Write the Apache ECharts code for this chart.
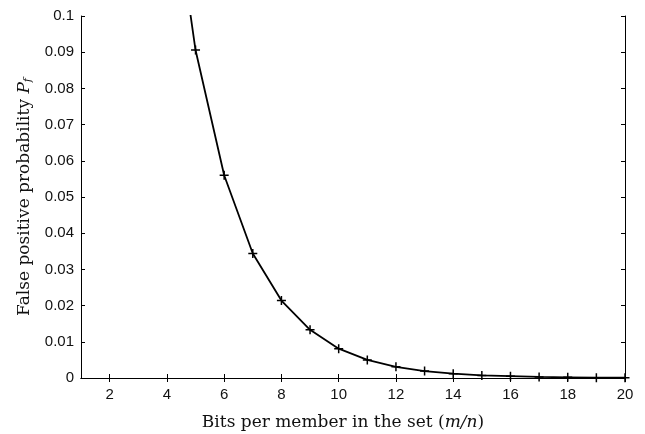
<!DOCTYPE html>
<html>
<head>
<meta charset="utf-8">
<script src="https://cdn.jsdelivr.net/npm/echarts@6/dist/echarts.min.js"></script>
<style>
  html, body { margin: 0; padding: 0; background: #fff; }
  #chart { width: 645px; height: 434px; }
</style>
</head>
<body>
<div id="chart"></div>
<script>
// bits per member (m/n) and false positive probability
const bits = [4, 5, 6, 7, 8, 9, 10, 11, 12, 13, 14, 15, 16, 17, 18, 19, 20]
const falsePositive = [0.146, 0.0906, 0.0560, 0.0344, 0.0214, 0.0133, 0.0081, 0.0050, 0.0031,
    0.0019, 0.0012, 0.0007, 0.0005, 0.0003, 0.0002, 0.0001, 0.0001]
const xTicks = [2, 4, 6, 8, 10, 12, 14, 16, 18, 20]

const points = bits.map((b, i) => [b, falsePositive[i]])
const plus = 'path://M0,5L10,5M5,0L5,10'

const chart = echarts.init(document.getElementById('chart'))

const tickStyle = { inside: true, length: 4, lineStyle: { color: '#000', width: 1 } }
const lineStyle = { lineStyle: { color: '#000', width: 1 } }
const serif = 'DejaVu Serif'
const sans = 'Liberation Sans'

chart.setOption({
    animation: false,
    grid: { left: 81, right: 20, top: 16, bottom: 56, containLabel: false, outerBoundsMode: 'none' },
    xAxis: [
        {
            type: 'value',
            min: 1,
            max: 20,
            axisLine: lineStyle,
            axisTick: Object.assign({ customValues: xTicks }, tickStyle),
            axisLabel: {
                customValues: xTicks,
                color: '#111',
                fontFamily: sans,
                fontSize: 15,
                margin: 9
            },
            splitLine: { show: false },
            name: '{t|Bits per member in the set (}{i|m/n}{t|)}',
            nameLocation: 'middle',
            nameGap: 36,
            nameTextStyle: {
                padding: [0, 20, 0, 0],
                rich: {
                    t: { fontFamily: serif, fontSize: 17, color: '#111' },
                    i: { fontFamily: serif, fontSize: 17, fontStyle: 'italic', color: '#111' }
                }
            }
        },
        {
            type: 'value',
            position: 'top',
            min: 1,
            max: 20,
            axisLine: lineStyle,
            axisTick: Object.assign({ customValues: xTicks }, tickStyle),
            axisLabel: { show: false },
            splitLine: { show: false }
        }
    ],
    yAxis: [
        {
            type: 'value',
            min: 0,
            max: 0.1,
            interval: 0.01,
            axisLine: { show: true, lineStyle: { color: '#000', width: 1 } },
            axisTick: tickStyle,
            axisLabel: {
                color: '#111',
                fontFamily: sans,
                fontSize: 15,
                margin: 7,
                formatter: v => String(+v.toFixed(2))
            },
            splitLine: { show: false },
            name: '{t|False positive probability }{i|P}{s|f}',
            nameLocation: 'middle',
            nameGap: 47,
            nameTextStyle: {
                rich: {
                    t: { fontFamily: serif, fontSize: 17, color: '#111' },
                    i: { fontFamily: serif, fontSize: 17, fontStyle: 'italic', color: '#111' },
                    s: { fontFamily: serif, fontSize: 11, fontStyle: 'italic', color: '#111',
                        verticalAlign: 'bottom', padding: [8, 0, 0, 0] }
                }
            }
        },
        {
            type: 'value',
            position: 'right',
            min: 0,
            max: 0.1,
            interval: 0.01,
            axisLine: { show: true, lineStyle: { color: '#000', width: 1 } },
            axisTick: tickStyle,
            axisLabel: { show: false },
            splitLine: { show: false }
        }
    ],
    series: [
        {
            type: 'line',
            data: points,
            clip: true,
            symbol: plus,
            symbolSize: 9,
            showAllSymbol: true,
            lineStyle: { color: '#000', width: 1.8 },
            itemStyle: { color: '#000', borderColor: '#000', borderWidth: 1.5 }
        }
    ]
})
</script>
</body>
</html>
